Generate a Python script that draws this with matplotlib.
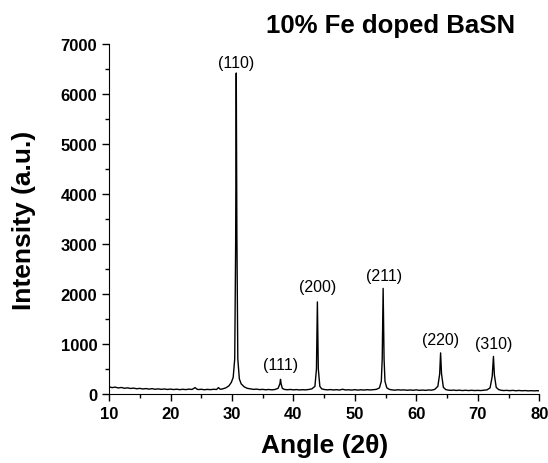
#!/usr/bin/env python3
"""XRD pattern of 10% Fe doped BaSN"""
import matplotlib
matplotlib.use('Agg')
import matplotlib.pyplot as plt
from matplotlib.ticker import MultipleLocator

# Diffraction pattern (angle 2theta, intensity counts)
angle = [10.0, 10.5, 11.0, 11.5, 12.0, 12.5, 13.0, 13.5, 14.0, 14.5, 15.0, 15.5,
         16.0, 16.5, 17.0, 17.5, 18.0, 18.5, 19.0, 19.5, 20.0, 20.5, 21.0, 21.5,
         22.0, 22.5, 23.0, 23.5, 24.0, 24.3, 24.5, 25.0, 25.5, 26.0, 26.5, 27.0,
         27.5, 27.8, 28.1, 28.5, 29.0, 29.5, 29.9, 30.2, 30.45, 30.6, 30.7, 30.8,
         30.95, 31.2, 31.5, 32.0, 32.5, 33.0, 33.5, 34.0, 34.5, 35.0, 35.5, 36.0,
         36.5, 37.0, 37.5, 37.8, 37.9, 38.0, 38.2, 38.5, 39.0, 39.5, 40.0, 40.5,
         41.0, 41.5, 42.0, 42.5, 43.0, 43.5, 43.75, 43.9, 44.05, 44.3, 44.6, 45.0,
         45.5, 46.0, 46.5, 47.0, 47.5, 48.0, 48.5, 49.0, 49.5, 50.0, 50.5, 51.0,
         51.5, 52.0, 52.5, 53.0, 53.5, 54.0, 54.3, 54.45, 54.6, 54.75, 54.9, 55.2,
         55.6, 56.0, 56.5, 57.0, 57.5, 58.0, 58.5, 59.0, 59.5, 60.0, 60.5, 61.0,
         61.5, 62.0, 62.5, 63.0, 63.5, 63.8, 63.95, 64.1, 64.4, 64.8, 65.2, 65.7,
         66.0, 66.5, 67.0, 67.5, 68.0, 68.5, 69.0, 69.5, 70.0, 70.5, 71.0, 71.5,
         72.0, 72.35, 72.55, 72.7, 73.0, 73.4, 73.8, 74.2, 74.7, 75.2, 75.7, 76.2,
         76.7, 77.2, 77.7, 78.2, 78.7, 79.2, 79.7, 80.0]
intensity = [140, 125, 135, 118, 128, 112, 120, 108, 115, 102, 110, 98,
             106, 95, 104, 92, 100, 90, 98, 88, 96, 86, 94, 84,
             92, 85, 95, 88, 125, 95, 86, 92, 82, 90, 84, 92,
             88, 125, 92, 100, 120, 160, 230, 330, 700, 3000, 6420, 3200,
             700, 300, 200, 140, 110, 100, 90, 95, 85, 90, 82, 88,
             80, 88, 110, 200, 290, 200, 110, 90, 82, 88, 80, 86,
             78, 84, 80, 88, 100, 150, 500, 1840, 500, 150, 100, 88,
             80, 86, 78, 84, 76, 92, 78, 82, 76, 84, 75, 82,
             76, 84, 78, 85, 90, 120, 250, 700, 2110, 700, 250, 120,
             90, 80, 74, 82, 76, 80, 72, 78, 72, 80, 70, 76,
             70, 78, 74, 90, 150, 400, 820, 400, 130, 85, 75, 70,
             76, 68, 74, 66, 72, 66, 72, 66, 70, 66, 72, 80,
             120, 350, 750, 380, 130, 85, 72, 66, 70, 64, 70, 62,
             68, 62, 66, 60, 64, 60, 64, 60]

# Miller indices and where their labels sit
hkl = ['(110)', '(111)', '(200)', '(211)', '(220)', '(310)']
hkl_angle = [30.7, 37.9, 43.9, 54.8, 64.0, 72.6]
hkl_y = [6640, 580, 2150, 2360, 1080, 1000]

plt.rcParams['font.family'] = ['Liberation Sans', 'DejaVu Sans']

fig = plt.figure(figsize=(5.48, 4.64), dpi=100)
ax = fig.add_axes([0.199, 0.149, 0.785, 0.754])

ax.plot(angle, intensity, color='black', linewidth=1.0)

for label, x, y in zip(hkl, hkl_angle, hkl_y):
    ax.text(x, y, label, ha='center', va='center', fontsize=11.5)

ax.set_xlim(10, 80)
ax.set_ylim(0, 7000)
ax.xaxis.set_major_locator(MultipleLocator(10))
ax.xaxis.set_minor_locator(MultipleLocator(5))
ax.yaxis.set_major_locator(MultipleLocator(1000))
ax.yaxis.set_minor_locator(MultipleLocator(500))
ax.tick_params(which='major', direction='out', length=5, width=1, labelsize=12)
ax.tick_params(which='minor', direction='out', length=3, width=1)
for lbl in ax.get_xticklabels() + ax.get_yticklabels():
    lbl.set_fontweight('bold')

ax.spines['top'].set_visible(False)
ax.spines['right'].set_visible(False)

ax.set_xlabel('Angle (2θ)', fontsize=19, fontweight='bold', labelpad=9)
ax.set_ylabel('Intensity (a.u.)', fontsize=19, fontweight='bold', labelpad=18)
fig.text(0.712, 0.945, '10% Fe doped BaSN', fontsize=18.5, fontweight='bold',
         ha='center', va='center')

fig.savefig('out.png', dpi=100)
